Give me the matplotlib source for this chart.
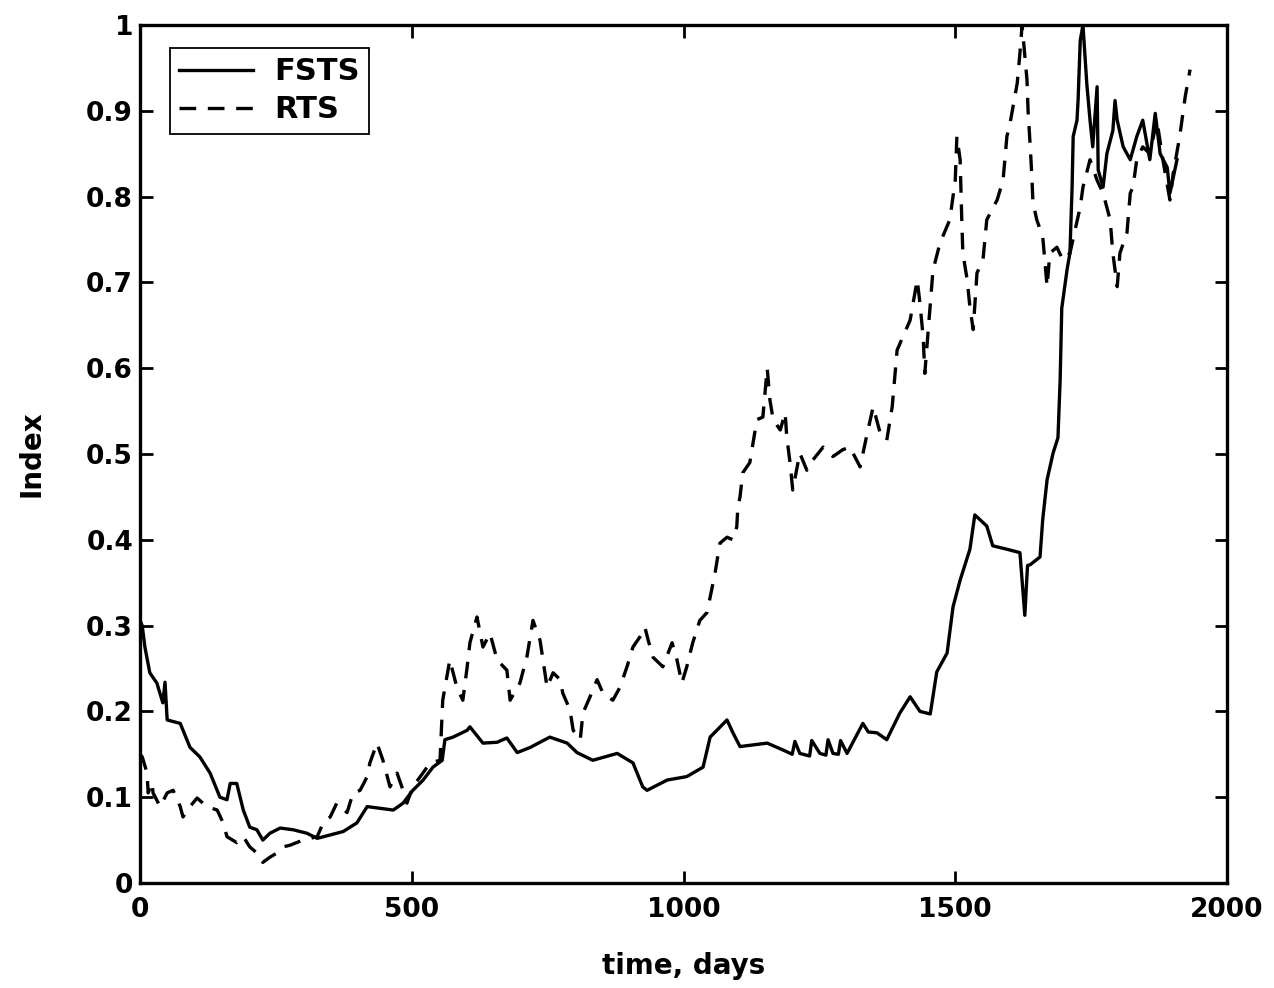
import matplotlib
matplotlib.use("Agg")
import matplotlib.pyplot as plt
from matplotlib.ticker import FuncFormatter

# FSTS (solid)
fsts_days = [0, 4, 9, 18, 31, 42, 46, 50, 74, 92, 110, 129, 147, 160, 166, 178, 190, 202, 215, 226,
             239, 258, 282, 307, 326, 350, 374, 399, 418, 442, 466, 484, 502, 521, 539, 556, 561, 576,
             602, 607, 631, 657, 675, 694, 718, 754, 786, 804, 833, 878, 907, 925, 933, 970, 1006,
             1036, 1049, 1080, 1091, 1104, 1154, 1183, 1200, 1205, 1214, 1232, 1236, 1251, 1262, 1266,
             1275, 1285, 1289, 1301, 1330, 1340, 1356, 1374, 1398,
             1417, 1435, 1454, 1466, 1485, 1496, 1509, 1527, 1536, 1558, 1569, 1595, 1619, 1628, 1633,
             1638, 1656, 1661, 1669, 1680, 1689, 1693, 1696, 1706, 1711, 1715, 1717, 1724, 1726, 1730,
             1735, 1742, 1748, 1753, 1761, 1763, 1772, 1779, 1790, 1794, 1798, 1809, 1822, 1834, 1845,
             1858, 1868, 1877, 1890, 1895, 1908]
fsts_vals = [0.306, 0.30, 0.275, 0.245, 0.233, 0.21, 0.234, 0.19, 0.186, 0.158, 0.147, 0.128, 0.10,
             0.097, 0.116, 0.116, 0.085, 0.065, 0.062, 0.05, 0.058, 0.064, 0.062, 0.058, 0.052, 0.056,
             0.06, 0.07, 0.089, 0.087, 0.085, 0.093, 0.108, 0.12, 0.135, 0.143, 0.167, 0.17, 0.178,
             0.182, 0.163, 0.164, 0.169, 0.152, 0.158, 0.17, 0.163, 0.152, 0.143, 0.151, 0.14, 0.112,
             0.108, 0.12, 0.124, 0.135, 0.17, 0.19, 0.175, 0.159, 0.163, 0.155, 0.15, 0.165, 0.151,
             0.148, 0.166, 0.151, 0.149, 0.167, 0.151, 0.15, 0.166, 0.151, 0.186, 0.176, 0.175, 0.167,
             0.198, 0.217, 0.2, 0.197, 0.246, 0.268, 0.322, 0.353, 0.389,
             0.429, 0.416, 0.393, 0.389, 0.385, 0.312, 0.37, 0.371, 0.38, 0.424, 0.47, 0.501, 0.519,
             0.586, 0.67, 0.716, 0.734, 0.811, 0.87, 0.889, 0.912, 0.982, 1.0, 0.932, 0.889, 0.858,
             0.928, 0.831, 0.811, 0.85, 0.877, 0.912, 0.889, 0.858, 0.843, 0.87, 0.889, 0.843, 0.897,
             0.85, 0.834, 0.804, 0.843]

# RTS (dashed)
rts_days = [0, 4, 6, 13, 15, 22, 24, 37, 50, 61, 74, 79, 92, 105, 123, 142, 153, 160, 178, 190, 202,
            215, 226, 239, 252, 263, 276, 300, 326, 337, 350, 362, 381, 392, 405, 418, 423, 436, 447,
            460, 473, 484, 491, 502, 534, 552, 557, 570, 583, 594, 602, 607, 620, 631, 644, 657, 675,
            681, 699, 712, 723, 736, 749, 760, 773, 778, 791, 797, 810, 815, 828, 841, 852, 870, 883,
            896, 907, 920, 929, 935, 944, 962, 979, 988, 997, 1006, 1017, 1030, 1043, 1049, 1058, 1067,
            1080, 1091, 1098, 1100, 1104, 1109, 1122, 1128, 1135, 1146, 1154, 1159, 1165, 1178, 1187,
            1190, 1196, 1201, 1214, 1227, 1238, 1257, 1275, 1293, 1306, 1325, 1338, 1349, 1362, 1374,
            1384, 1393, 1417, 1430, 1435, 1441, 1444, 1459, 1472, 1490, 1500, 1503, 1509, 1512, 1514,
            1522, 1527, 1533, 1540, 1551, 1558, 1577, 1588, 1595, 1601, 1614, 1619, 1623, 1632, 1634,
            1638, 1641, 1643, 1650, 1661, 1669, 1674, 1687, 1698, 1711, 1730, 1735, 1748, 1761, 1772,
            1785, 1790, 1798, 1803, 1816, 1822, 1827, 1834, 1845, 1858, 1871, 1882, 1895, 1901, 1913,
            1923, 1932]
rts_vals = [0.15, 0.147, 0.143, 0.128, 0.105, 0.117, 0.105, 0.089, 0.105, 0.108, 0.089, 0.077, 0.089,
            0.099, 0.089, 0.085, 0.07, 0.054, 0.047, 0.054, 0.042, 0.035, 0.024, 0.03, 0.035, 0.042,
            0.044, 0.05, 0.054, 0.07, 0.077, 0.093, 0.082, 0.105, 0.108, 0.124, 0.14, 0.163, 0.143,
            0.112, 0.128, 0.108, 0.093, 0.112, 0.14, 0.143, 0.213, 0.26, 0.228, 0.213, 0.252, 0.28,
            0.31, 0.275, 0.291, 0.26, 0.248, 0.213, 0.233, 0.264, 0.306, 0.283, 0.228, 0.245, 0.237,
            0.221, 0.202, 0.178, 0.167, 0.198, 0.217, 0.237, 0.221, 0.213, 0.228, 0.252, 0.275, 0.287,
            0.298, 0.283, 0.263, 0.252, 0.28, 0.26, 0.233, 0.252, 0.28, 0.306, 0.315, 0.333, 0.361,
            0.396, 0.403, 0.40, 0.415, 0.438, 0.45, 0.478, 0.49, 0.513, 0.54, 0.543, 0.60, 0.563, 0.54,
            0.528, 0.548, 0.52, 0.49, 0.458, 0.501, 0.481, 0.493, 0.508, 0.497, 0.505, 0.508, 0.485,
            0.524, 0.555, 0.524, 0.516, 0.555, 0.621, 0.656, 0.703, 0.676, 0.636, 0.594, 0.714, 0.746,
            0.773, 0.819, 0.87, 0.843, 0.773, 0.734, 0.703, 0.671, 0.645, 0.711, 0.726, 0.773, 0.796,
            0.819, 0.87, 0.886, 0.932, 0.967, 1.0, 0.936, 0.90, 0.858, 0.823, 0.793, 0.773, 0.753,
            0.695, 0.734, 0.741, 0.726, 0.734, 0.788, 0.811, 0.843, 0.819, 0.804, 0.773, 0.734, 0.695,
            0.734, 0.758, 0.804, 0.811, 0.843, 0.858, 0.85, 0.889, 0.843, 0.796, 0.827, 0.87, 0.916,
            0.948]

x_ticks = [0, 500, 1000, 1500, 2000]
y_ticks = [0, 0.1, 0.2, 0.3, 0.4, 0.5, 0.6, 0.7, 0.8, 0.9, 1.0]

plt.rcParams['font.family'] = ['DejaVu Sans']
plt.rcParams['font.weight'] = 'bold'

fig = plt.figure(figsize=(12.74, 9.88), dpi=100)
ax = fig.add_axes([0.1099, 0.1063, 0.8532, 0.8684])

ax.plot(fsts_days, fsts_vals, color='black', lw=2.4, ls='-', label='FSTS')
ax.plot(rts_days, rts_vals, color='black', lw=2.4, ls=(0, (5, 3.5)), label='RTS')

ax.set_xlim(0, 2000)
ax.set_ylim(0, 1)
ax.set_xticks(x_ticks)
ax.set_yticks(y_ticks)
ax.yaxis.set_major_formatter(FuncFormatter(lambda v, p: f"{v:g}"))
ax.tick_params(axis='both', direction='in', length=9, width=2, labelsize=19, top=True, right=True)
ax.tick_params(axis='x', pad=10)
ax.tick_params(axis='y', pad=5)
for lab in ax.get_xticklabels() + ax.get_yticklabels():
    lab.set_fontweight('bold')
for s in ax.spines.values():
    s.set_linewidth(2.4)

ax.set_xlabel('time, days', fontsize=20, fontweight='bold', labelpad=21)
ax.set_ylabel('Index', fontsize=20, fontweight='bold', labelpad=29)

leg = ax.legend(loc='upper left', bbox_to_anchor=(0.0276, 0.973), borderaxespad=0,
                fancybox=False, framealpha=1, edgecolor='black',
                handlelength=2.4, handletextpad=0.7, labelspacing=0.3, borderpad=0.3,
                prop={'weight': 'bold', 'size': 22})
leg.get_frame().set_linewidth(1.3)

fig.savefig('out.png', dpi=100)
